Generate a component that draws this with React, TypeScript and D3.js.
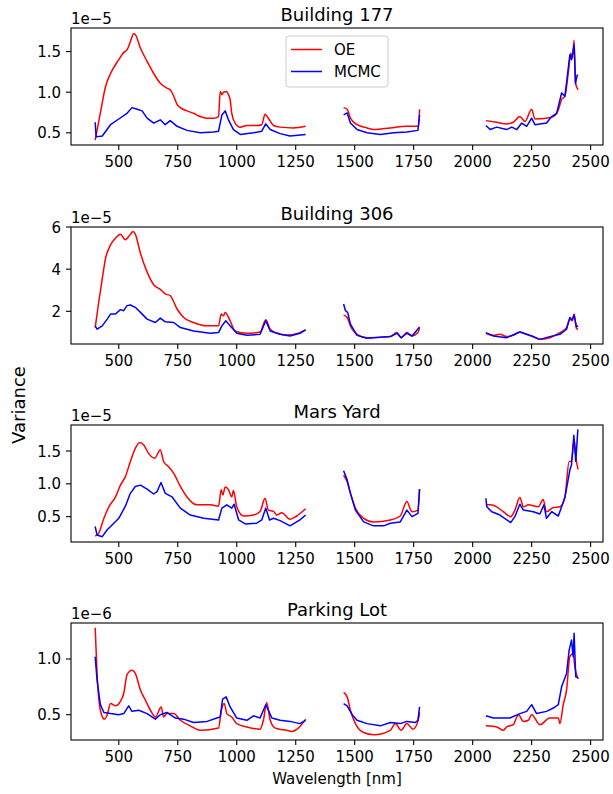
import React from "react";
import * as d3 from "d3";

type P = [number, number];

const panelTitles = ["Building 177", "Building 306", "Mars Yard", "Parking Lot"];
const offsetLabels = ["1e\u22125", "1e\u22125", "1e\u22125", "1e\u22126"];
const yDomains: P[] = [[0.35, 1.79], [0.45, 6.0], [0.114, 1.896], [0.273, 1.323]];
const yTicks = [[0.5, 1.0, 1.5], [2, 4, 6], [0.5, 1.0, 1.5], [0.5, 1.0]];
const yTickFormats = [".1f", "d", ".1f", ".1f"];
const xTicks = [500, 750, 1000, 1250, 1500, 1750, 2000, 2250, 2500];
const seriesNames = ["OE", "MCMC"];

const oe177: P[] = [
  [400,0.41],[422,0.745],[444,1.07],[465,1.23],[500,1.40],[521,1.49],[535,1.52],[549,1.62],[563,1.72],[570,1.71],[592,1.54],[620,1.38],[648,1.23],[676,1.11],[704,1.05],[718,1.03],[733,0.95],[747,0.85],[761,0.81],[789,0.77],[817,0.74],[845,0.70],[874,0.68],[902,0.68],[923,0.70],[930,1.01],[937,0.97],[944,1.00],[958,1.01],[965,0.97],[972,0.91],[979,0.74],[993,0.62],[1015,0.57],[1043,0.59],[1085,0.59],[1106,0.60],[1120,0.73],[1134,0.68],[1156,0.59],[1184,0.57],[1240,0.56],[1292,0.58],
  [1453,0.81],[1468,0.79],[1482,0.68],[1510,0.60],[1552,0.56],[1580,0.54],[1651,0.56],[1721,0.58],[1771,0.58],[1775,0.79],
  [2056,0.65],[2102,0.63],[2144,0.61],[2172,0.63],[2200,0.70],[2222,0.64],[2250,0.79],[2264,0.67],[2313,0.68],[2342,0.70],[2363,0.78],[2377,0.91],[2391,0.95],[2405,1.23],[2416,1.48],[2423,1.42],[2430,1.64],[2436,1.11],[2447,1.03],
];
const mcmc177: P[] = [
  [400,0.63],[404,0.45],[430,0.46],[465,0.60],[500,0.67],[535,0.74],[556,0.81],[578,0.79],[599,0.77],[620,0.68],[648,0.62],[676,0.66],[697,0.60],[718,0.65],[747,0.58],[789,0.53],[845,0.50],[902,0.51],[923,0.52],[937,0.72],[951,0.77],[965,0.66],[986,0.54],[1015,0.48],[1071,0.50],[1106,0.52],[1123,0.61],[1142,0.54],[1184,0.49],[1226,0.46],[1292,0.48],
  [1453,0.72],[1468,0.745],[1482,0.62],[1510,0.54],[1552,0.50],[1609,0.48],[1665,0.50],[1721,0.51],[1768,0.53],[1775,0.72],
  [2056,0.59],[2074,0.54],[2102,0.57],[2144,0.54],[2166,0.57],[2187,0.54],[2208,0.62],[2229,0.58],[2250,0.68],[2264,0.60],[2313,0.62],[2335,0.70],[2356,0.74],[2377,0.99],[2391,0.95],[2412,1.46],[2419,1.40],[2430,1.58],[2436,1.11],[2443,1.21],[2447,1.21],
];

const oe306: P[] = [
  [400,1.23],[415,2.43],[430,3.55],[444,4.51],[465,5.15],[486,5.47],[507,5.66],[528,5.39],[542,5.55],[561,5.79],[570,5.66],[592,4.75],[620,3.87],[648,3.26],[676,3.04],[697,2.83],[718,2.75],[747,2.11],[775,1.71],[817,1.47],[874,1.31],[923,1.31],[934,1.87],[944,1.79],[951,1.95],[972,1.55],[993,1.07],[1043,0.96],[1099,1.02],[1123,1.60],[1142,1.15],[1170,0.96],[1212,0.88],[1254,0.94],[1292,1.12],
  [1453,1.82],[1468,1.71],[1482,1.31],[1510,0.91],[1552,0.75],[1651,0.80],[1679,0.99],[1697,0.75],[1721,0.99],[1743,0.83],[1768,0.99],[1775,1.23],
  [2056,0.96],[2088,0.86],[2116,0.91],[2144,0.80],[2172,0.86],[2200,1.02],[2229,0.91],[2250,0.83],[2285,0.67],[2327,0.75],[2370,0.99],[2398,1.23],[2412,1.63],[2422,1.55],[2430,1.87],[2440,1.18],[2447,1.15],
];
const mcmc306: P[] = [
  [400,1.31],[408,1.15],[430,1.31],[451,1.63],[465,1.87],[486,1.87],[507,2.08],[521,2.03],[535,2.27],[549,2.30],[570,2.19],[592,1.95],[620,1.63],[655,1.47],[676,1.68],[697,1.50],[733,1.47],[761,1.23],[817,1.07],[888,0.96],[923,0.99],[937,1.31],[954,1.55],[972,1.31],[1000,0.96],[1043,0.86],[1099,0.91],[1123,1.55],[1142,1.07],[1184,0.91],[1226,0.83],[1268,0.96],[1292,1.12],
  [1453,2.35],[1461,2.03],[1470,1.95],[1482,1.39],[1510,0.86],[1552,0.72],[1651,0.80],[1679,0.96],[1697,0.75],[1721,0.96],[1743,0.83],[1775,1.26],
  [2056,0.99],[2088,0.83],[2144,0.75],[2200,1.02],[2250,0.83],[2285,0.67],[2327,0.80],[2370,0.91],[2398,1.15],[2412,1.71],[2422,1.60],[2430,1.82],[2440,1.26],[2447,1.31],
];

const oeMars: P[] = [
  [400,0.205],[415,0.25],[437,0.475],[458,0.65],[486,0.80],[507,0.98],[528,1.11],[549,1.34],[570,1.54],[589,1.63],[606,1.59],[627,1.46],[652,1.39],[676,1.52],[690,1.34],[711,1.26],[733,1.16],[761,0.96],[789,0.80],[831,0.68],[888,0.68],[923,0.66],[934,0.91],[941,0.83],[951,0.95],[965,0.91],[979,0.80],[986,0.90],[1000,0.65],[1029,0.51],[1071,0.525],[1099,0.58],[1120,0.78],[1134,0.60],[1156,0.58],[1170,0.525],[1191,0.56],[1226,0.46],[1254,0.51],[1292,0.62],
  [1453,1.13],[1468,1.03],[1482,0.855],[1503,0.63],[1538,0.475],[1580,0.42],[1651,0.45],[1693,0.51],[1721,0.73],[1743,0.575],[1768,0.60],[1775,0.92],
  [2056,0.68],[2074,0.68],[2102,0.65],[2130,0.575],[2161,0.50],[2179,0.60],[2200,0.79],[2215,0.65],[2236,0.68],[2278,0.65],[2299,0.76],[2313,0.575],[2342,0.64],[2370,0.65],[2391,0.80],[2409,1.34],[2419,1.34],[2430,1.67],[2440,1.34],[2447,1.22],
];
const mcmcMars: P[] = [
  [400,0.35],[408,0.22],[430,0.195],[451,0.30],[479,0.40],[500,0.475],[528,0.66],[549,0.855],[570,0.96],[592,0.98],[620,0.92],[648,0.845],[662,0.88],[679,1.02],[697,0.855],[726,0.80],[761,0.63],[803,0.525],[860,0.475],[923,0.45],[937,0.63],[958,0.68],[979,0.63],[989,0.69],[1008,0.45],[1036,0.39],[1085,0.40],[1106,0.45],[1123,0.63],[1139,0.45],[1156,0.475],[1184,0.44],[1226,0.36],[1268,0.45],[1292,0.525],
  [1453,1.20],[1468,1.06],[1482,0.855],[1503,0.60],[1538,0.42],[1580,0.36],[1623,0.36],[1651,0.40],[1693,0.42],[1721,0.60],[1743,0.50],[1768,0.55],[1775,0.92],
  [2056,0.78],[2060,0.65],[2081,0.575],[2116,0.525],[2161,0.41],[2179,0.50],[2200,0.69],[2215,0.60],[2257,0.575],[2285,0.54],[2302,0.68],[2313,0.475],[2335,0.575],[2363,0.51],[2391,0.79],[2412,1.21],[2419,1.29],[2429,1.74],[2437,1.34],[2446,1.83],
];

const oeParking: P[] = [
  [400,1.28],[408,0.87],[422,0.54],[439,0.46],[451,0.50],[465,0.60],[486,0.58],[507,0.62],[521,0.69],[535,0.86],[556,0.90],[570,0.87],[592,0.72],[613,0.63],[634,0.54],[655,0.48],[680,0.57],[690,0.48],[704,0.51],[733,0.51],[761,0.45],[803,0.40],[845,0.36],[923,0.38],[934,0.53],[947,0.60],[958,0.51],[979,0.48],[1000,0.42],[1043,0.39],[1099,0.37],[1113,0.45],[1127,0.61],[1142,0.45],[1163,0.38],[1212,0.36],[1233,0.35],[1261,0.38],[1292,0.46],
  [1453,0.70],[1468,0.66],[1482,0.54],[1503,0.42],[1538,0.34],[1580,0.32],[1651,0.36],[1672,0.42],[1697,0.36],[1721,0.42],[1747,0.37],[1768,0.44],[1775,0.52],
  [2056,0.40],[2102,0.39],[2130,0.36],[2144,0.39],[2172,0.41],[2194,0.50],[2215,0.44],[2236,0.45],[2250,0.50],[2285,0.41],[2327,0.47],[2363,0.47],[2370,0.42],[2384,0.59],[2398,0.72],[2412,1.02],[2426,1.05],[2433,0.93],[2447,0.82],
];
const mcmcParking: P[] = [
  [400,1.02],[408,0.81],[422,0.59],[437,0.52],[465,0.51],[500,0.50],[521,0.51],[542,0.58],[556,0.53],[585,0.54],[620,0.51],[655,0.46],[676,0.50],[704,0.52],[740,0.47],[775,0.46],[817,0.43],[874,0.44],[916,0.47],[930,0.48],[940,0.64],[955,0.66],[972,0.57],[1000,0.47],[1043,0.45],[1071,0.49],[1099,0.47],[1123,0.59],[1149,0.47],[1184,0.45],[1226,0.44],[1268,0.42],[1292,0.45],
  [1453,0.60],[1468,0.58],[1489,0.50],[1510,0.45],[1552,0.42],[1609,0.40],[1651,0.43],[1693,0.42],[1721,0.44],[1757,0.43],[1768,0.45],[1775,0.57],
  [2056,0.49],[2088,0.47],[2116,0.47],[2158,0.47],[2200,0.51],[2229,0.53],[2250,0.59],[2271,0.51],[2313,0.53],[2342,0.56],[2363,0.59],[2377,0.75],[2398,0.87],[2409,1.08],[2419,1.17],[2426,1.02],[2430,1.23],[2437,0.84],[2447,0.83],
];

const oeSeries = [oe177, oe306, oeMars, oeParking];
const mcmcSeries = [mcmc177, mcmc306, mcmcMars, mcmcParking];

const W = 613, H = 794;
const LEFT = 71, RIGHT = 603;
const panelTops = [28, 227, 425, 623];
const PANEL_H = 117;
const COLORS = ["#ff0000", "#0000ff"];
const FONT = "DejaVu Sans, sans-serif";

function splitSegments(pts: P[]): P[][] {
  const segs: P[][] = [];
  let cur: P[] = [];
  pts.forEach((p, i) => {
    if (i > 0 && p[0] - pts[i - 1][0] > 100) { segs.push(cur); cur = []; }
    cur.push(p);
  });
  if (cur.length) segs.push(cur);
  return segs;
}

export default function App() {
  const x = d3.scaleLinear().domain([297.5, 2552.5]).range([LEFT, RIGHT]);
  return (
    <svg width={W} height={H} style={{ position: "absolute", left: 0, top: 0, background: "#fff" }} fontFamily={FONT}>
      <rect x={0} y={0} width={W} height={H} fill="#fff" />
      {panelTitles.map((title, pi) => {
        const top = panelTops[pi];
        const bottom = top + PANEL_H;
        const y = d3.scaleLinear().domain(yDomains[pi]).range([bottom, top]);
        const lineOE = d3.line<P>().x(d => x(d[0])).y(d => y(d[1])).curve(d3.curveMonotoneX);
        const lineMC = d3.line<P>().x(d => x(d[0])).y(d => y(d[1]));
        const fmt = d3.format(yTickFormats[pi]);
        const all = [oeSeries[pi], mcmcSeries[pi]];
        return (
          <g key={pi}>
            <defs>
              <clipPath id={`clip${pi}`}>
                <rect x={LEFT} y={top} width={RIGHT - LEFT} height={PANEL_H} />
              </clipPath>
            </defs>
            <g clipPath={`url(#clip${pi})`}>
              {all.map((s, si) =>
                splitSegments(s).map((seg, k) => (
                  <path key={`${si}-${k}`} d={(si === 0 ? lineOE : lineMC)(seg) || ""} fill="none" stroke={COLORS[si]} strokeWidth={1.5} strokeLinejoin="round" />
                ))
              )}
            </g>
            <rect x={LEFT} y={top} width={RIGHT - LEFT} height={PANEL_H} fill="none" stroke="#000" strokeWidth={1.1} />
            {xTicks.map(t => (
              <g key={t}>
                <line x1={x(t)} x2={x(t)} y1={bottom} y2={bottom + 5} stroke="#000" strokeWidth={1.1} />
                <text x={x(t)} y={bottom + 22} fontSize={15} textAnchor="middle" fill="#000">{t}</text>
              </g>
            ))}
            {yTicks[pi].map(t => (
              <g key={t}>
                <line x1={LEFT - 5} x2={LEFT} y1={y(t)} y2={y(t)} stroke="#000" strokeWidth={1.1} />
                <text x={LEFT - 10} y={y(t) + 5.5} fontSize={15} textAnchor="end" fill="#000">{fmt(t)}</text>
              </g>
            ))}
            <text x={LEFT} y={top - 4} fontSize={15} fill="#000">{offsetLabels[pi]}</text>
            <text x={(LEFT + RIGHT) / 2} y={top - 7} fontSize={18} textAnchor="middle" fill="#000">{title}</text>
            {pi === 0 && (
              <g>
                <rect x={286} y={36} width={102} height={51} rx={3} fill="#fff" fillOpacity={0.8} stroke="#cccccc" strokeWidth={1} />
                {seriesNames.map((n, si) => (
                  <g key={n}>
                    <line x1={291} x2={322} y1={49.5 + si * 22} y2={49.5 + si * 22} stroke={COLORS[si]} strokeWidth={1.5} />
                    <text x={334} y={49.5 + si * 22 + 5.5} fontSize={15} fill="#000">{n}</text>
                  </g>
                ))}
              </g>
            )}
          </g>
        );
      })}
      <text transform={`translate(25,405) rotate(-90)`} fontSize={18} textAnchor="middle" fill="#000">Variance</text>
      <text x={(LEFT + RIGHT) / 2} y={784} fontSize={15} textAnchor="middle" fill="#000">Wavelength [nm]</text>
    </svg>
  );
}
